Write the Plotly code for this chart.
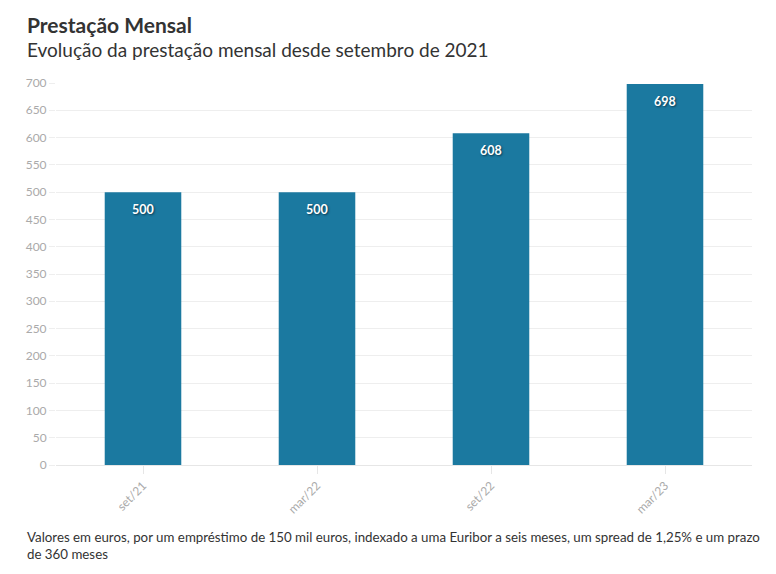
import plotly.graph_objects as go

# dados
datas = ['set/21', 'mar/22', 'set/22', 'mar/23']
prestacao = [500, 500, 608, 698]

cor_barra = '#1b79a0'
fonte = 'Lato'

fig = go.Figure()

fig.add_trace(go.Bar(
    x=datas,
    y=prestacao,
    marker=dict(color=cor_barra, line=dict(width=0)),
    hoverinfo='x+y',
))

# rotulos de valor dentro das barras
for d, v in zip(datas, prestacao):
    fig.add_annotation(x=d, y=v, text='<b>%d</b>' % v, showarrow=False,
                       yanchor='top', yshift=-8,
                       font=dict(family=fonte, size=12.5, color='white',
                                 shadow='1px 1px 2px #0b3a50'))

fig.update_layout(
    width=760, height=558,
    margin=dict(l=48, r=16, t=75, b=101),
    plot_bgcolor='white',
    paper_bgcolor='white',
    font=dict(family=fonte, color='#333333'),
    bargap=0.56,
    showlegend=False,
)

fig.update_yaxes(
    range=[0, 700],
    dtick=50,
    showgrid=True,
    gridcolor='#eeeeee',
    gridwidth=1,
    zeroline=False,
    ticks='outside',
    ticklen=6,
    tickcolor='#eeeeee',
    tickfont=dict(family=fonte, size=12, color='#aaaaaa'),
    showline=False,
)

fig.update_xaxes(
    tickangle=-45,
    showline=True,
    linecolor='#e6e6e6',
    ticks='outside',
    ticklen=8,
    tickcolor='#e6e6e6',
    tickfont=dict(family=fonte, size=12, color='#aaaaaa'),
)

# titulo e subtitulo
fig.add_annotation(text='<b>Prestação Mensal</b>', xref='paper', yref='paper',
                   x=0, y=1, xanchor='left', yanchor='bottom',
                   xshift=-31, yshift=44,
                   showarrow=False, font=dict(family=fonte, size=21, color='#333333'))
fig.add_annotation(text='Evolução da prestação mensal desde setembro de 2021',
                   xref='paper', yref='paper',
                   x=0, y=1, xanchor='left', yanchor='bottom',
                   xshift=-31, yshift=20,
                   showarrow=False, font=dict(family=fonte, size=19, color='#333333'))

# nota de rodape
fig.add_annotation(text='Valores em euros, por um empréstimo de 150 mil euros, indexado a uma Euribor a seis meses, um spread de 1,25% e um prazo<br>de 360 meses',
                   xref='paper', yref='paper',
                   x=0, y=0, xanchor='left', yanchor='top', align='left',
                   xshift=-31, yshift=-62,
                   showarrow=False, font=dict(family=fonte, size=13.3, color='#333333'))

fig.write_html('out.html')
